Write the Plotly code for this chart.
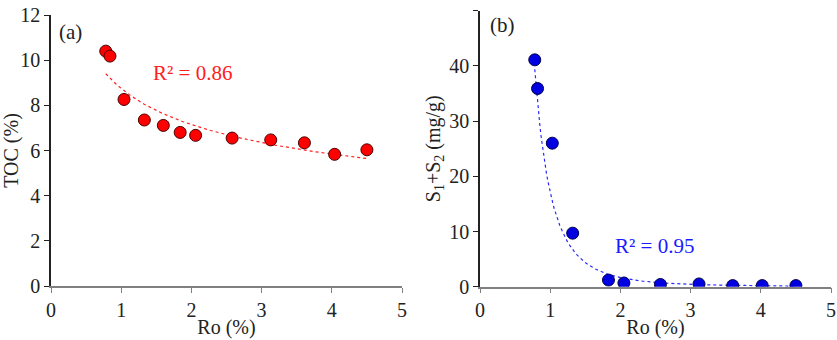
import numpy as np
import plotly.graph_objects as go

# Panel (a): TOC vs Ro
ro_a = [0.78, 0.84, 1.04, 1.33, 1.60, 1.84, 2.06, 2.58, 3.13, 3.61, 4.04, 4.50]
toc = [10.4, 10.18, 8.26, 7.35, 7.11, 6.80, 6.67, 6.55, 6.47, 6.34, 5.83, 6.03]

# Panel (b): S1+S2 vs Ro
ro_b = [0.78, 0.82, 1.03, 1.32, 1.83, 2.05, 2.57, 3.12, 3.60, 4.02, 4.50]
s12 = [41.1, 35.9, 26.0, 9.7, 1.2, 0.67, 0.4, 0.5, 0.2, 0.2, 0.2]

r2_a = "R² = 0.86"
r2_b = "R² = 0.95"

SERIF = "'Liberation Serif', 'Times New Roman', serif"

def power_fit(x, y):
    x = np.asarray(x, float); y = np.asarray(y, float)
    b, ln_a = np.polyfit(np.log(x), np.log(y), 1)
    xs = np.linspace(x.min(), x.max(), 200)
    return xs, np.exp(ln_a) * xs ** b

xa, ya = power_fit(ro_a, toc)
xb, yb = power_fit(ro_b, s12)

fig = go.Figure()
fig.add_trace(go.Scatter(x=xa, y=ya, mode="lines", line=dict(color="#ff2020", width=1.2, dash="dot"),
                         xaxis="x", yaxis="y", hoverinfo="skip"))
fig.add_trace(go.Scatter(x=ro_a, y=toc, mode="markers",
                         marker=dict(size=12, color="#ff0000", line=dict(color="#4a0000", width=1)),
                         xaxis="x", yaxis="y"))
fig.add_trace(go.Scatter(x=xb, y=yb, mode="lines", line=dict(color="#2a2aff", width=1.2, dash="dot"),
                         xaxis="x2", yaxis="y2", hoverinfo="skip"))
fig.add_trace(go.Scatter(x=ro_b, y=s12, mode="markers",
                         marker=dict(size=12, color="#0000e0", line=dict(color="#00004a", width=1)),
                         xaxis="x2", yaxis="y2"))

FS = 20
tickfont = dict(family=SERIF, size=FS, color="#222")
xcommon = dict(range=[0, 5], dtick=1, showgrid=False, zeroline=False, showline=True,
               linecolor="#808080", linewidth=1.5, ticks="outside", ticklen=5, tickcolor="#808080",
               tickfont=tickfont, automargin=False,
               title=dict(text="Ro (%)", font=dict(family=SERIF, size=FS, color="#222"), standoff=0))
ycommon = dict(showgrid=False, zeroline=False, showline=True, linecolor="#222", linewidth=1.5,
               ticks="outside", ticklen=5, tickcolor="#222", tickfont=tickfont, automargin=False)

fig.update_layout(
    width=837, height=340, margin=dict(l=0, r=0, t=0, b=0),
    paper_bgcolor="white", plot_bgcolor="white", showlegend=False,
    xaxis=dict(xcommon, domain=[51/837, 402/837], anchor="y"),
    yaxis=dict(ycommon, domain=[1-286/340, 1-15/340], range=[0, 12], dtick=2, anchor="x",
               title=dict(text="TOC (%)", font=dict(family=SERIF, size=FS, color="#222"), standoff=1)),
    xaxis2=dict(xcommon, domain=[480/837, 831/837], anchor="y2"),
    yaxis2=dict(ycommon, domain=[1-286.7/340, 1-10.7/340], range=[0, 50], dtick=10, anchor="x2",
                title=dict(text="S<sub>1</sub>+S<sub>2</sub> (mg/g)", font=dict(family=SERIF, size=FS, color="#222"), standoff=3)),
    annotations=[
        dict(text="(a)", x=57/837, y=1-32/340, xref="paper", yref="paper", xanchor="left", yanchor="middle",
             showarrow=False, font=dict(family=SERIF, size=21, color="#222")),
        dict(text="(b)", x=488/837, y=1-25/340, xref="paper", yref="paper", xanchor="left", yanchor="middle",
             showarrow=False, font=dict(family=SERIF, size=21, color="#222")),
        dict(text=r2_a, x=151/837, y=1-73/340, xref="paper", yref="paper", xanchor="left", yanchor="middle",
             showarrow=False, font=dict(family=SERIF, size=21, color="#ff2020")),
        dict(text=r2_b, x=613/837, y=1-246/340, xref="paper", yref="paper", xanchor="left", yanchor="middle",
             showarrow=False, font=dict(family=SERIF, size=21, color="#1a1aff")),
    ],
)

fig.write_html("out.html", config={"displayModeBar": False},
               post_script="document.body.style.margin='0';document.body.style.overflow='hidden';")
